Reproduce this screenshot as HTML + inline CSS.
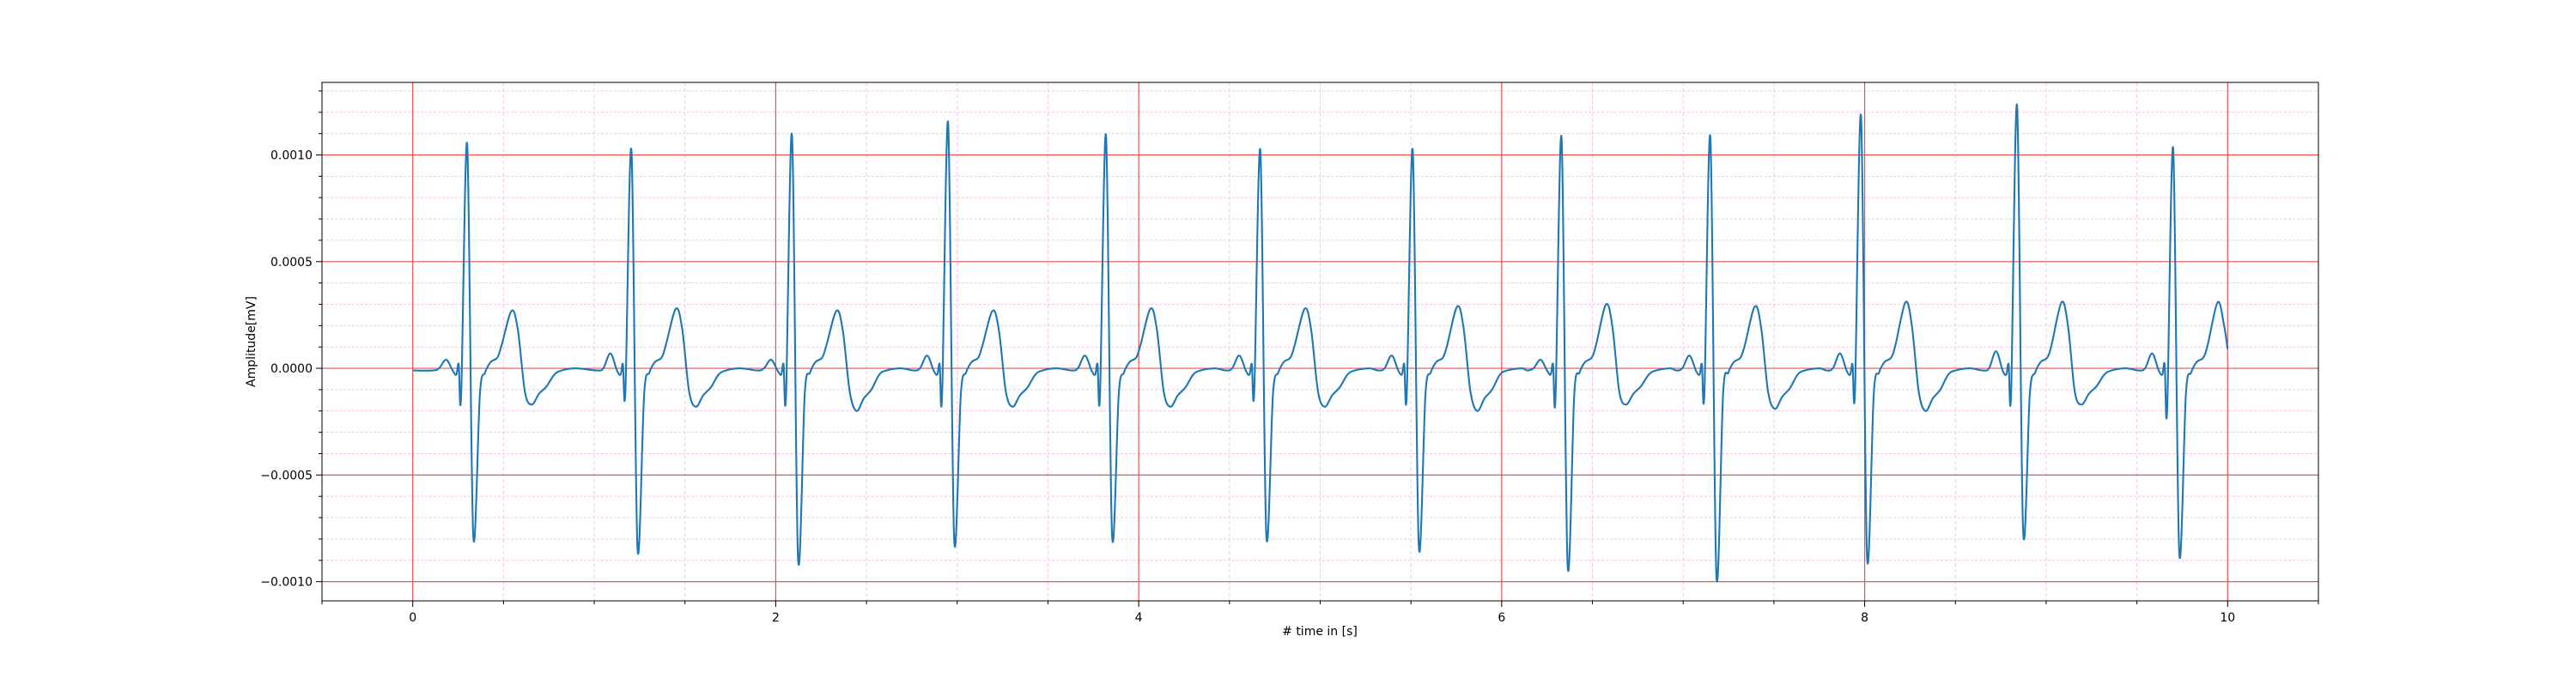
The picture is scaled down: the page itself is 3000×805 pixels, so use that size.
<!DOCTYPE html>
<html><head><meta charset="utf-8"><style>
html,body{margin:0;padding:0;background:#fff}
svg text{font-family:"DejaVu Sans","Liberation Sans",sans-serif;font-size:14px;fill:#000}
</style></head><body>
<svg id="chart" width="3000" height="800" viewBox="0 0 3000 800" xmlns="http://www.w3.org/2000/svg">
<rect width="3000" height="800" fill="#fff"/>
<g id="grid"></g>
<g id="series"></g>
<rect x="375" y="96" width="2325" height="604" fill="none" stroke="#000" stroke-width="1"/>
<g id="ticks"></g>
<text x="1537" y="740" text-anchor="middle"># time in [s]</text>
<text transform="translate(297,398) rotate(-90)" text-anchor="middle">Amplitude[mV]</text>
</svg>
<script>
// per-beat features (amplitudes in mV)
const rTimes = [0.30, 1.205, 2.09, 2.95, 3.82, 4.67, 5.51, 6.33, 7.15, 7.98, 8.84, 9.70];
const rAmps  = [0.00105, 0.00102, 0.00109, 0.00115, 0.00109, 0.00102, 0.00102, 0.00108, 0.00108, 0.00118, 0.00123, 0.00103];
const sAmps  = [-0.00078, -0.00084, -0.00089, -0.00080, -0.00078, -0.00078, -0.00083, -0.00092, -0.00097, -0.00088, -0.00076, -0.00086];
const qAmps  = [-0.00012, -0.00010, -0.00012, -0.00012, -0.00012, -0.00010, -0.00012, -0.00013, -0.00011, -0.00010, -0.00011, -0.00019];
const pAmps  = [0.00004, 0.00007, 0.00004, 0.00006, 0.00006, 0.00006, 0.00006, 0.00004, 0.00006, 0.00007, 0.00008, 0.00007];
const tAmps  = [0.00027, 0.00028, 0.00027, 0.00027, 0.00028, 0.00028, 0.00029, 0.00030, 0.00029, 0.00031, 0.00031, 0.00031];
const tMinAmps = [-0.00017, -0.00018, -0.00020, -0.00018, -0.00018, -0.00018, -0.00020, -0.00017, -0.00019, -0.00020, -0.00017, -0.00017];
const endPoint = [10.0, 0.00009];
const xTicks = [0, 2, 4, 6, 8, 10];
const yTicks = [-0.0010, -0.0005, 0.0000, 0.0005, 0.0010];
const yTickLabels = ["\u22120.0010", "\u22120.0005", "0.0000", "0.0005", "0.0010"];

const X0=375, X1=2700, Y0=96, Y1=700;
const xMin=-0.5, xMax=10.5, yMin=-0.00109, yMax=0.00134;
const sx = t => X0 + (t - xMin) / (xMax - xMin) * (X1 - X0);
const sy = v => Y1 - (v - yMin) / (yMax - yMin) * (Y1 - Y0);
const NS="http://www.w3.org/2000/svg";
function mk(tag, attrs, parent){const e=document.createElementNS(NS,tag);for(const k in attrs)e.setAttribute(k,attrs[k]);parent.appendChild(e);return e;}

const grid=document.getElementById('grid'), ticks=document.getElementById('ticks');
for(let t=-0.5;t<=10.5001;t+=0.5){ if(Math.abs(t-Math.round(t/2)*2)<1e-6) continue;
  const l=mk('line',{x1:sx(t),x2:sx(t),y1:Y0,y2:Y1,stroke:'#f8c4ea','stroke-width':1,'stroke-dasharray':'4,3'},grid);
  
  
  const tk=mk('line',{x1:sx(t),x2:sx(t),y1:Y1,y2:Y1+4,stroke:'#000','stroke-width':1},ticks);
  
  
}
for(let i=-10;i<=13;i++){ const v=i*0.0001; if(i%5===0) continue;
  const l=mk('line',{x1:X0,x2:X1,y1:sy(v),y2:sy(v),stroke:'#f8c4ea','stroke-width':1,'stroke-dasharray':'3,2'},grid);
  
  
  const tk=mk('line',{x1:X0-4,x2:X0,y1:sy(v),y2:sy(v),stroke:'#000','stroke-width':1},ticks);
  
  
}
xTicks.forEach(t=>{
  const l=mk('line',{x1:sx(t),x2:sx(t),y1:Y0,y2:Y1,stroke:'#f05050','stroke-width':1.2},grid);
  
  
  const tk=mk('line',{x1:sx(t),x2:sx(t),y1:Y1,y2:Y1+7,stroke:'#000','stroke-width':1},ticks);
  
  
  const tx=mk('text',{x:sx(t),y:Y1+24,'text-anchor':'middle'},ticks);tx.textContent=String(t);
  
  
});
yTicks.forEach((v,i)=>{
  const l=mk('line',{x1:X0,x2:X1,y1:sy(v),y2:sy(v),stroke:'#f05050','stroke-width':1.2},grid);
  
  
  const tk=mk('line',{x1:X0-7,x2:X0,y1:sy(v),y2:sy(v),stroke:'#000','stroke-width':1},ticks);
  
  
  const tx=mk('text',{x:X0-11,y:sy(v)+5,'text-anchor':'end'},ticks);tx.textContent=yTickLabels[i];
  
  
});

// build keypoints from beat features
const pts=[[0,-0.00001]];
rTimes.forEach((r,i)=>{
  const seq=[[-0.19,-0.00001],[-0.155,0.0],[-0.116,pAmps[i]],[-0.08,-0.00001],[-0.06,-0.00003],[-0.047,0.00002],
    [-0.033,qAmps[i]],[0,rAmps[i]],[0.033,sAmps[i]],
    [0.07,-0.00012],[0.099,-0.00002],[0.13,0.00003],[0.166,0.00005],[0.19,0.00011],[0.245,tAmps[i]],[0.28,tAmps[i]*0.65],
    [0.318,-0.00011],[0.355,tMinAmps[i]],[0.396,tMinAmps[i]*0.7],[0.437,tMinAmps[i]*0.5],[0.48,-0.00003],[0.52,-0.00001],[0.6,0.0]];
  seq.forEach(([dt,v])=>{const t=r+dt; if(t<=endPoint[0]-0.02 && t>pts[pts.length-1][0]) pts.push([t,v]);});
});
pts.push(endPoint);
const P=pts.map(([t,v])=>[sx(t),sy(v)]);
let d='M'+P[0][0].toFixed(1)+','+P[0][1].toFixed(1);
for(let i=0;i<P.length-1;i++){
  const p0=P[Math.max(0,i-1)],p1=P[i],p2=P[i+1],p3=P[Math.min(P.length-1,i+2)];
  const k=1/6;
  const c1=[p1[0]+(p2[0]-p0[0])*k,p1[1]+(p2[1]-p0[1])*k], c2=[p2[0]-(p3[0]-p1[0])*k,p2[1]-(p3[1]-p1[1])*k];
  d+='C'+c1[0].toFixed(1)+','+c1[1].toFixed(1)+' '+c2[0].toFixed(1)+','+c2[1].toFixed(1)+' '+p2[0].toFixed(1)+','+p2[1].toFixed(1);
}
const line=mk('path',{d:d,fill:'none',stroke:'#1f77b4','stroke-width':2.1,'stroke-linejoin':'round'},document.getElementById('series'));


</script>
</body></html>
